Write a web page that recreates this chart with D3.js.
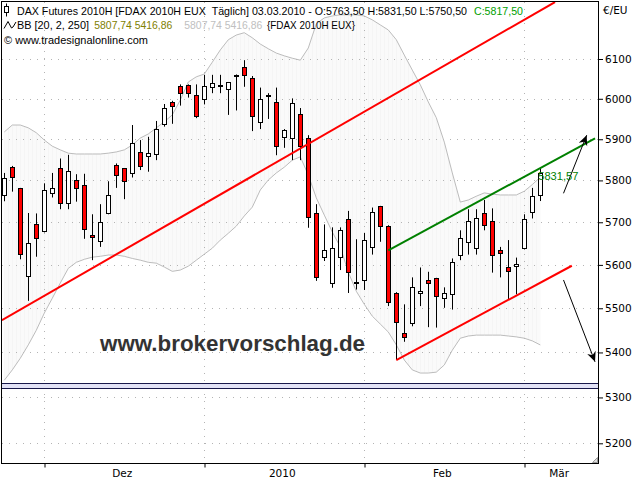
<!DOCTYPE html>
<html><head><meta charset="utf-8">
<script src="https://cdn.jsdelivr.net/npm/d3@7"></script>
<style>
body{margin:0;background:#fff}
svg{display:block}
text{font-family:"DejaVu Sans",Verdana,sans-serif;font-size:11px;white-space:pre}
.hd{font-family:"Liberation Sans",Arial,sans-serif;font-size:11px}
</style>
</head><body>
<svg id="c" width="640" height="480"></svg>
<script>
// ---------- DATA ----------
const dates = ["2009-11-24","2009-11-25","2009-11-26","2009-11-27","2009-11-30",
"2009-12-01","2009-12-02","2009-12-03","2009-12-04","2009-12-07","2009-12-08","2009-12-09","2009-12-10","2009-12-11",
"2009-12-14","2009-12-15","2009-12-16","2009-12-17","2009-12-18","2009-12-21","2009-12-22","2009-12-23","2009-12-28","2009-12-29","2009-12-30",
"2010-01-04","2010-01-05","2010-01-06","2010-01-07","2010-01-08","2010-01-11","2010-01-12","2010-01-13","2010-01-14","2010-01-15",
"2010-01-18","2010-01-19","2010-01-20","2010-01-21","2010-01-22","2010-01-25","2010-01-26","2010-01-27","2010-01-28","2010-01-29",
"2010-02-01","2010-02-02","2010-02-03","2010-02-04","2010-02-05","2010-02-08","2010-02-09","2010-02-10","2010-02-11","2010-02-12",
"2010-02-15","2010-02-16","2010-02-17","2010-02-18","2010-02-19","2010-02-22","2010-02-23","2010-02-24","2010-02-25","2010-02-26",
"2010-03-01","2010-03-02","2010-03-03"];

const open  = [5763,5832,5781,5572,5695,5678,5769,5829,5745,5800,5789,5671,5655,5723,5837,5829,5819,5868,5859,5863,
5937,5991,6031,6035,6009,5999,6030,6033,6023,6059,6079,6051,5942,6008,5991,5906,5902,5962,5902,5723,
5617,5557,5617,5707,5560,5564,5641,5738,5692,5536,5443,5465,5534,5566,5569,5525,5532,5625,5653,5638,
5723,5702,5634,5596,5596,5639,5723,5763.5];
const high  = [5818,5835,5782,5722,5721,5793,5818,5853,5862,5815,5816,5719,5743,5798,5841,5830,5935,5898,5906,5945,
5987,5995,6036,6036,6036,6060,6060,6060,6042,6061,6097,6057,6028,6014,6028,5925,6001,5977,5910,5743,
5695,5688,5688,5727,5660,5675,5735,5739,5693,5537,5509,5571,5594,5584,5570,5548,5615,5681,5731,5731,
5753,5733,5642,5658,5617,5719,5782,5831.5];
const low   = [5750,5773,5613,5517,5619,5676,5759,5731,5731,5749,5661,5611,5642,5719,5782,5755,5807,5825,5821,5849,
5931,5938,5983,6003,5952,5986,6014,6014,5960,5971,6030,5920,5925,5950,5861,5879,5849,5849,5687,5563,
5609,5547,5588,5535,5543,5542,5624,5654,5505,5383,5424,5459,5505,5457,5456,5501,5497,5611,5624,5624,
5681,5582,5571,5521,5532,5636,5709,5750.5];
const close = [5805,5807,5624,5650,5663,5776,5781,5745,5822,5781,5683,5666,5700,5765,5812,5797,5892,5833,5866,5925,
5976,5980,6014,6016,5956,6032,6039,6034,6041,6060,6058,5956,5999,6010,5883,5923,5989,5884,5711,5574,
5634,5639,5681,5582,5561,5658,5724,5691,5516,5469,5434,5548,5539,5559,5527,5536,5606,5664,5702,5709,
5695,5622,5627,5587,5601,5707,5762,5817.5];

// Bollinger bands (20, 2)
const bbUpper = [5918,5935,5935,5928,5916,5898,5883,5874,5866,5864,5864,5864,5864,5866,5869,5874,5886,5903,5913,5928,
5943,5960,5997,6042,6055,6062,6092,6123,6149,6161,6167,6154,6138,6126,6115,6108,6102,6097,6128,6190,
6205,6210,6213,6213,6213,6210,6200,6187,6174,6149,6110,6072,6035,5992,5953,5893,5818,5748,5753,5762,
5770,5767,5765,5765,5765,5774,5790,5807.74];
const bbLower = [5338,5361,5387,5417,5450,5489,5523,5558,5592,5606,5613,5618,5620,5623,5623,5620,5615,5611,5606,5604,
5595,5585,5588,5597,5611,5625,5639,5658,5674,5691,5715,5736,5777,5801,5818,5832,5849,5857,5813,5758,
5717,5677,5642,5583,5539,5509,5482,5464,5446,5417,5383,5361,5354,5354,5356,5372,5405,5432,5437,5439,
5439,5439,5439,5437,5435,5432,5426,5416.86];

const priceTicks = [5200,5300,5400,5500,5600,5700,5800,5900,6000,6100];
const monthLabels = ["Dez","2010","Feb","Mär"];

// drawn annotations: [bar index, price]
const trendUpper = [[-0.29,5473],[68.84,6246]];
const trendLower = [[49,5383],[70.94,5598]];
const trendGreen = [[48,5634],[73.84,5902]];
const arrowUp   = [[69.9,5769],[72.8,5910]];
const arrowDown = [[69.9,5565],[73.84,5379]];
const supportZone = [5320,5331];
const greenValue = 5831.57;

// ---------- CHART ----------
const svg = d3.select("#c");
const L = 2, R = 598, T = 2, B = 463;
const x = d3.scaleLinear().domain([0, 67]).range([4.3, 540.3]);
const y = d3.scaleLog().domain([5200, 6100]).range([443.3, 59]);
const fmt = v => d3.format(".2f")(v).replace(".", ",");

const defs = svg.append("defs");
defs.append("clipPath").attr("id","plot").append("rect")
  .attr("x",L).attr("y",T).attr("width",R-L).attr("height",B-T);
const pat = defs.append("pattern").attr("id","stripes").attr("patternUnits","userSpaceOnUse")
  .attr("width",4).attr("height",8);
pat.append("rect").attr("width",4).attr("height",8).attr("fill","#fafafa");
pat.append("rect").attr("x",0).attr("width",1).attr("height",8).attr("fill","#f5f5f5");
const mk = defs.append("marker").attr("id","ah").attr("viewBox","-11 -6 12 12")
  .attr("refX",0).attr("refY",0).attr("markerWidth",12).attr("markerHeight",12)
  .attr("markerUnits","userSpaceOnUse").attr("orient","auto");
mk.append("path").attr("d","M0,0 L-10,-4.5 L-7,0 L-10,4.5 Z").attr("fill","#000");

const plot = svg.append("g").attr("clip-path","url(#plot)");

// band fill
const idx = d3.range(dates.length);
plot.append("path").datum(idx)
  .attr("d", d3.area().x(i=>x(i)).y0(i=>y(bbLower[i])).y1(i=>y(bbUpper[i])))
  .attr("fill","url(#stripes)");

// grid
const monthIdx = idx.filter(i => i>0 && dates[i].slice(0,7) !== dates[i-1].slice(0,7));
plot.append("g").selectAll("line").data(priceTicks).join("line")
  .attr("x1",L).attr("x2",R)
  .attr("y1",d=>Math.round(y(d))+0.5).attr("y2",d=>Math.round(y(d))+0.5)
  .attr("stroke","#b4b4b4").attr("stroke-dasharray","1,6");
plot.append("g").selectAll("line").data(monthIdx).join("line")
  .attr("x1",d=>Math.floor(x(d))+0.5).attr("x2",d=>Math.floor(x(d))+0.5)
  .attr("y1",T).attr("y2",B)
  .attr("stroke","#b4b4b4").attr("stroke-dasharray","1,6");

// band lines
[bbUpper, bbLower].forEach(arr => {
  plot.append("path").datum(idx)
    .attr("d", d3.line().x(i=>x(i)).y(i=>y(arr[i])))
    .attr("fill","none").attr("stroke","#bcbcbc").attr("stroke-width",1);
});

// support zone
plot.append("rect").attr("x",L).attr("width",R-L)
  .attr("y",y(supportZone[1])).attr("height",y(supportZone[0])-y(supportZone[1]))
  .attr("fill","#e2e2f6");
supportZone.forEach(p => {
  plot.append("line").attr("x1",L).attr("x2",R)
    .attr("y1",Math.round(y(p))+0.5).attr("y2",Math.round(y(p))+0.5)
    .attr("stroke","#18184a").attr("stroke-width",1);
});

// watermark
plot.append("text").attr("x",100).attr("y",351)
  .attr("textLength",265).attr("lengthAdjust","spacingAndGlyphs")
  .style("font-family","'Liberation Sans',Arial,sans-serif").style("font-size","22px")
  .style("font-weight","bold").attr("fill","#333")
  .text("www.brokervorschlag.de");

// candles
const cg = plot.append("g");
idx.forEach(i => {
  const cx = Math.floor(x(i));
  cg.append("line").attr("x1",cx+0.5).attr("x2",cx+0.5)
    .attr("y1",y(high[i])).attr("y2",y(low[i])).attr("stroke","#000").attr("stroke-width",1);
  const top = y(Math.max(open[i],close[i])), bot = y(Math.min(open[i],close[i]));
  const h = Math.max(1, Math.round(bot - top));
  cg.append("rect").attr("x",cx-2+0.5).attr("width",4)
    .attr("y",Math.round(top)+0.5).attr("height",h)
    .attr("fill", close[i] < open[i] ? "#ff0000" : "#ffffff")
    .attr("stroke","#000").attr("stroke-width",1);
});

// trend lines
const seg = (pts, color, w) => plot.append("line")
  .attr("x1",x(pts[0][0])).attr("y1",y(pts[0][1]))
  .attr("x2",x(pts[1][0])).attr("y2",y(pts[1][1]))
  .attr("stroke",color).attr("stroke-width",w);
seg(trendUpper, "#ff0000", 2);
seg(trendLower, "#ff0000", 2);
seg(trendGreen, "#008000", 2);
seg(arrowUp, "#000", 1).attr("marker-end","url(#ah)");
seg(arrowDown, "#000", 1).attr("marker-end","url(#ah)");

// green value label
plot.append("text").attr("class","hd").attr("x",x(66.75)).attr("y",y(greenValue)+12.5)
  .attr("fill","#008000").attr("textLength",40).attr("lengthAdjust","spacingAndGlyphs")
  .text(fmt(greenValue));

// frame
svg.append("rect").attr("x",1.5).attr("y",1.5).attr("width",R-1.5+0.5).attr("height",B-1.5+0.5)
  .attr("fill","none").attr("stroke","#000");
svg.append("path").attr("d","M592.5,462.5 L597.5,457.5 L597.5,462.5 Z").attr("fill","#ddd").attr("stroke","#999");

// right axis
const ya = svg.append("g").attr("transform","translate(599,0)")
  .call(d3.axisRight(y).tickValues(priceTicks).tickSize(4).tickPadding(2).tickFormat(d3.format("d")));
ya.select(".domain").remove();
ya.selectAll("text").style("font-family","'DejaVu Sans',sans-serif").style("font-size","10.5px").attr("fill","#000");
ya.selectAll("line").attr("stroke","#000");
svg.append("text").attr("x",603).attr("y",14).style("font-size","10.5px").text("€/EU");

// bottom axis
const xa = svg.append("g").attr("transform",`translate(0,${B+0.5})`)
  .call(d3.axisBottom(x).tickValues(monthIdx.map(i=>x.invert(Math.floor(x(i))+0.5))).tickSize(4).tickFormat(""));
xa.select(".domain").remove();
xa.selectAll("line").attr("stroke","#000");
monthIdx.forEach((m,k) => {
  const a = x(m), b = k+1 < monthIdx.length ? x(monthIdx[k+1]) : R;
  svg.append("text").attr("x",(a+b)/2 - 2).attr("y",477).attr("text-anchor","middle")
    .style("font-size","10.5px").text(monthLabels[k]);
});

// header
const hdr = svg.append("g");
hdr.append("line").attr("x1",6.5).attr("x2",6.5).attr("y1",3.5).attr("y2",16.5).attr("stroke","#000");
hdr.append("rect").attr("x",4.5).attr("y",6.5).attr("width",4).attr("height",6).attr("fill","#fff").attr("stroke","#000");
const last = dates.length-1;
const htext = (xp, yp, len, col, s, fs) => hdr.append("text").attr("class","hd")
  .attr("x",xp).attr("y",yp).attr("textLength",len).attr("lengthAdjust","spacingAndGlyphs")
  .style("font-size", (fs||11)+"px").attr("fill",col).text(s);
htext(17, 14.5, 450, "#000",
  `DAX Futures 2010H [FDAX 2010H EUX  Täglich] 03.03.2010 - O:${fmt(open[last])} H:${fmt(high[last])} L:${fmt(low[last])}`, 10.5);
htext(474, 14.5, 49, "#00a000", `C:${fmt(close[last])}`, 10.5);
hdr.append("path").attr("d","M4,28.5 L8,21.5 L11.5,28 L13,27 L16,22").attr("fill","none").attr("stroke","#000");
const bbTxt = `${fmt(bbUpper[last])} ${fmt(bbLower[last])}`;
htext(17, 29, 72, "#000", "BB [20, 2, 250]");
htext(94.3, 29, 78, "#808000", bbTxt);
htext(184.3, 29, 78, "#c0c0c0", bbTxt);
htext(267, 29, 88, "#000", "{FDAX 2010H EUX}");
htext(4, 44, 144, "#000", "© www.tradesignalonline.com");
</script>
</body></html>
